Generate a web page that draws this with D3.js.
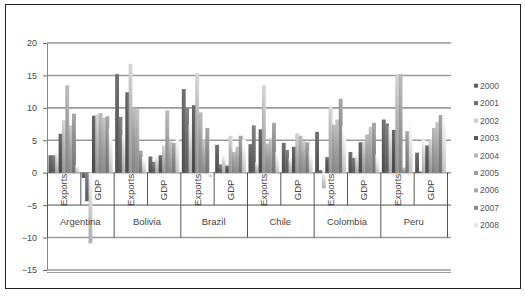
<!DOCTYPE html>
<html lang="en">
<head>
<meta charset="utf-8">
<title>Exports and GDP growth</title>
<script src="https://d3js.org/d3.v7.min.js"></script>
<style>
  body{margin:0;background:#fff;font-family:"Liberation Sans",Arial,sans-serif;}
</style>
</head>
<body>
<div id="chart"></div>
<script>
// categories
var countries = ["Argentina","Bolivia","Brazil","Chile","Colombia","Peru"]
var measures = ["Exports","GDP"]
var years = ["2000","2001","2002","2003","2004","2005","2006","2007","2008"]
var yTicks = [-15,-10,-5,0,5,10,15,20]

// one array per year, order: Arg Exp, Arg GDP, Bol Exp, Bol GDP, Bra Exp, Bra GDP,
// Chi Exp, Chi GDP, Col Exp, Col GDP, Per Exp, Per GDP
var s2000 = [2.7, -0.8, 15.2, 2.5, 12.9, 4.3, 4.4, 4.6, 6.3, 3.2, 8.2, 3.1]
var s2001 = [2.7, -4.4, 8.6, 1.7, 10.0, 1.3, 7.3, 3.5, 0.4, 2.3, 7.6, 0.2]
var s2002 = [3.1, -10.9, 5.8, 2.5, 7.4, 2.7, 1.6, 2.3, -2.4, 2.7, 7.2, 5.1]
var s2003 = [6.0, 8.8, 12.4, 2.7, 10.4, 1.1, 6.7, 4.0, 2.4, 4.7, 6.6, 4.2]
var s2004 = [8.1, 9.0, 16.8, 4.2, 15.3, 5.7, 13.5, 6.1, 10.2, 4.8, 15.2, 5.1]
var s2005 = [13.5, 9.2, 10.0, 9.6, 9.3, 3.2, 4.5, 5.7, 7.4, 5.9, 15.2, 6.9]
var s2006 = [7.3, 8.5, 9.8, 4.8, 5.0, 4.0, 5.3, 4.8, 8.2, 7.1, 0.8, 7.8]
var s2007 = [9.1, 8.7, 3.4, 4.6, 6.9, 5.7, 7.7, 4.7, 11.4, 7.7, 6.4, 8.9]
var s2008 = [1.2, 6.8, 2.4, 6.1, -0.6, 5.1, 3.2, 3.4, 7.1, 2.8, 8.3, 9.8]
var seriesValues = [s2000,s2001,s2002,s2003,s2004,s2005,s2006,s2007,s2008]

var colors = ["#5e5e5e","#6c6c6c","#cdcdcd","#585858","#b2b2b2","#9c9c9c","#a6a6a6","#8a8a8a","#e4e4e4"]

var w = 525, h = 300
var svg = d3.select("#chart").append("svg").attr("width",w).attr("height",h)

// outer frame
svg.append("rect").attr("x",5.5).attr("y",4.5).attr("width",515).attr("height",284)
  .attr("fill","#fff").attr("stroke","#222").attr("stroke-width",1)

var left = 47, right = 447
var y = d3.scaleLinear().domain([-15,20]).range([270,43])
var xCountry = d3.scaleBand().domain(countries).range([left,right])
var xMeasure = d3.scaleBand().domain(measures).range([0,xCountry.bandwidth()])
var xYear = d3.scaleBand().domain(years).range([1.5,xMeasure.bandwidth()-1.5])

// gradients
var defs = svg.append("defs")
colors.forEach(function(c,i){
  var g = defs.append("linearGradient").attr("id","g"+i)
    .attr("x1",0).attr("y1",1).attr("x2",0.3).attr("y2",0)
  var base = d3.color(c)
  g.append("stop").attr("offset","0%").attr("stop-color",base.darker(0.6))
  g.append("stop").attr("offset","60%").attr("stop-color",base)
  g.append("stop").attr("offset","100%").attr("stop-color",base.brighter(0.5))
})

// gridlines
svg.append("g").selectAll("line").data(yTicks).enter().append("line")
  .attr("x1",left).attr("x2",451)
  .attr("y1",function(d){return y(d)}).attr("y2",function(d){return y(d)})
  .attr("stroke","#9a9a9a").attr("stroke-width",1.6)
svg.append("line").attr("x1",left).attr("x2",451).attr("y1",y(-15)+2.5).attr("y2",y(-15)+2.5)
  .attr("stroke","#9a9a9a").attr("stroke-width",1)

// y axis
var yAxis = svg.append("g").attr("transform","translate("+left+",0)")
  .call(d3.axisLeft(y).tickValues(yTicks).tickSize(4).tickPadding(6).tickSizeOuter(0))
yAxis.select(".domain").attr("stroke","#888")
yAxis.selectAll(".tick line").attr("stroke","#666")
yAxis.selectAll("text").attr("font-size","9px").attr("fill","#444")
  .attr("font-family","Liberation Sans, Arial, sans-serif")

// bars
var flat = []
seriesValues.forEach(function(vals,si){
  vals.forEach(function(v,k){
    flat.push({year:years[si], si:si, country:countries[Math.floor(k/2)], measure:measures[k%2], value:v})
  })
})
svg.append("g").selectAll("rect").data(flat).enter().append("rect")
  .attr("x",function(d){return xCountry(d.country)+xMeasure(d.measure)+xYear(d.year)})
  .attr("width",xYear.bandwidth()+0.5)
  .attr("y",function(d){return y(Math.max(0,d.value))})
  .attr("height",function(d){return Math.abs(y(d.value)-y(0))})
  .attr("fill",function(d){return "url(#g"+d.si+")"})

// category axis separators
var sepG = svg.append("g").attr("stroke","#555").attr("stroke-width",1)
countries.forEach(function(c,i){
  sepG.append("line").attr("x1",xCountry(c)+0.5).attr("x2",xCountry(c)+0.5)
    .attr("y1",y(0)).attr("y2",y(-10))
  sepG.append("line").attr("x1",xCountry(c)+xMeasure("GDP")+0.5).attr("x2",xCountry(c)+xMeasure("GDP")+0.5)
    .attr("y1",y(0)).attr("y2",y(-5))
})
sepG.append("line").attr("x1",right+0.5).attr("x2",right+0.5).attr("y1",y(0)).attr("y2",y(-10))

// measure labels (rotated)
countries.forEach(function(c){
  measures.forEach(function(m){
    var cx = xCountry(c)+xMeasure(m)+xMeasure.bandwidth()/2
    var cy = (y(0)+y(-5))/2 + 1
    svg.append("text").text(m)
      .attr("transform","translate("+(cx+3.5)+","+cy+") rotate(-90)")
      .attr("text-anchor","middle").attr("font-size","9.5px").attr("fill","#444")
  })
})
// country labels
svg.append("g").selectAll("text").data(countries).enter().append("text")
  .text(function(d){return d})
  .attr("x",function(d){return xCountry(d)+xCountry.bandwidth()/2})
  .attr("y",(y(-5)+y(-10))/2+3.5)
  .attr("text-anchor","middle").attr("font-size","9.5px").attr("fill","#444")

// legend
var leg = svg.append("g").selectAll("g").data(years).enter().append("g")
  .attr("transform",function(d,i){return "translate(474,"+(85.7+i*17.45)+")"})
leg.append("rect").attr("x",0).attr("y",-2).attr("width",4).attr("height",4)
  .attr("fill",function(d,i){return colors[i]})
leg.append("text").text(function(d){return d}).attr("x",6).attr("y",3)
  .attr("font-size","8.5px").attr("fill","#555")
</script>
</body>
</html>
